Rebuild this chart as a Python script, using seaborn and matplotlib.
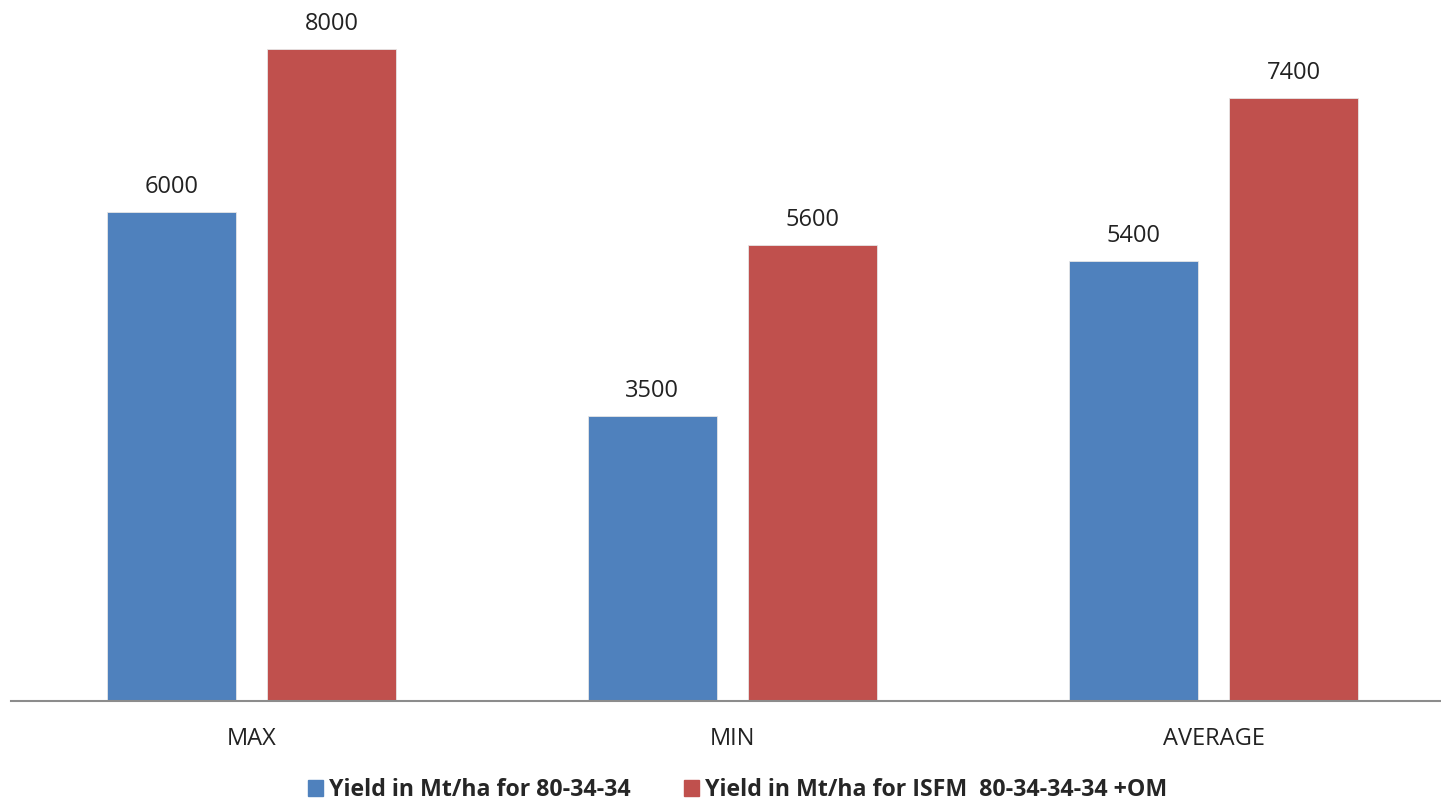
import matplotlib
matplotlib.use("Agg")
import matplotlib.pyplot as plt
import seaborn as sns
import pandas as pd

# Yield figures per statistic, for the two fertiliser treatments
categories = ["MAX", "MIN", "AVERAGE"]
series_names = [
    "Yield in Mt/ha for 80-34-34",
    "Yield in Mt/ha for ISFM  80-34-34-34 +OM",
]
yield_standard = [6000, 3500, 5400]
yield_isfm = [8000, 5600, 7400]
colors = ["#4F81BD", "#C0504D"]

df = pd.DataFrame({
    "stat": categories * 2,
    "series": [series_names[0]] * 3 + [series_names[1]] * 3,
    "value": yield_standard + yield_isfm,
})

sns.set_theme(style="white")
plt.rcParams["font.family"] = ["Open Sans", "DejaVu Sans"]

W, H, DPI = 1441, 802, 100
fig = plt.figure(figsize=(W / DPI, H / DPI), dpi=DPI)
ax = fig.add_axes([11 / W, 101 / H, 1430 / W, 701 / H])

sns.barplot(
    data=df, x="stat", y="value", hue="series",
    order=categories, hue_order=series_names,
    palette=colors, width=0.667, gap=0.196,
    saturation=1, errorbar=None, ax=ax, legend=False,
    edgecolor="#e6e6e6", linewidth=0.6,
)

for container in ax.containers:
    ax.bar_label(container, fmt="%d", padding=9, fontsize=17, color="#222222")

ax.set_xlim(-0.5, -0.5 + 1430 / 481)
ax.set_ylim(0, 8600)
ax.set_xlabel("")
ax.set_ylabel("")
ax.set_yticks([])
for side in ["left", "right", "top"]:
    ax.spines[side].set_visible(False)
ax.spines["bottom"].set_color("#8c8c8c")
ax.spines["bottom"].set_linewidth(1.5)
ax.tick_params(axis="x", length=0, pad=19, labelsize=17, labelcolor="#222222")

handles = [plt.Rectangle((0, 0), 1, 1, color=c) for c in colors]
fig.legend(
    handles, series_names, loc="lower center", ncol=2, frameon=False,
    bbox_to_anchor=(0.512, -0.026), prop={"weight": "bold", "size": 16.7},
    handlelength=0.65, handleheight=0.65, handletextpad=0.25, columnspacing=2.3,
)

fig.savefig("out.png", dpi=DPI)
